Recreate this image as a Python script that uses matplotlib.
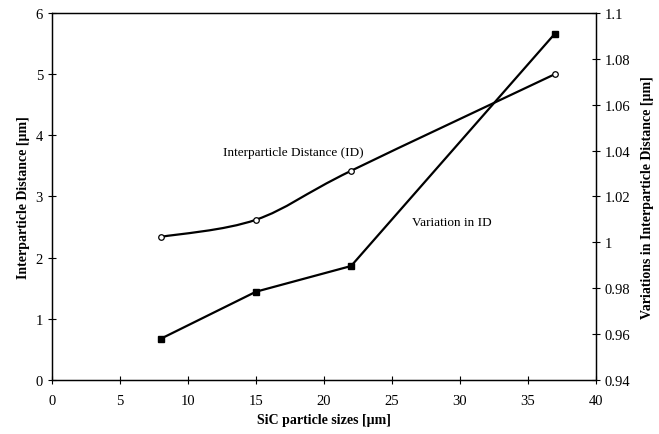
import matplotlib
matplotlib.use('Agg')
import matplotlib.pyplot as plt
import numpy as np
from matplotlib.path import Path
from matplotlib.patches import PathPatch
from matplotlib.ticker import FuncFormatter

plt.rcParams['font.family'] = ['Liberation Serif', 'DejaVu Serif']

sizes = [8, 15, 22, 37]
id_dist = [2.34, 2.62, 3.42, 5.0]
id_var = [0.958, 0.9785, 0.9897, 1.091]


def smooth_path(xs, ys, t=0.25):
    # bezier smoothing like a spreadsheet "smoothed line"
    xs = np.asarray(xs, float)
    ys = np.asarray(ys, float)
    n = len(xs)
    verts = [(xs[0], ys[0])]
    codes = [Path.MOVETO]
    for i in range(n - 1):
        p0 = (xs[max(i - 1, 0)], ys[max(i - 1, 0)])
        p1 = (xs[i], ys[i])
        p2 = (xs[i + 1], ys[i + 1])
        p3 = (xs[min(i + 2, n - 1)], ys[min(i + 2, n - 1)])
        c1 = (p1[0] + (p2[0] - p0[0]) * t / 1.5, p1[1] + (p2[1] - p0[1]) * t / 1.5)
        c2 = (p2[0] - (p3[0] - p1[0]) * t / 1.5, p2[1] - (p3[1] - p1[1]) * t / 1.5)
        verts += [c1, c2, p2]
        codes += [Path.CURVE4] * 3
    return Path(verts, codes)


fig = plt.figure(figsize=(6.59, 4.35), dpi=100)
ax = fig.add_axes([0.079, 0.124, 0.825, 0.844])
ax2 = ax.twinx()

ax.add_patch(PathPatch(smooth_path(sizes, id_dist), fill=False, lw=1.6, color='black'))
ax.plot(sizes, id_dist, 'o', ms=4, mfc='white', mec='black', mew=0.9)

ax2.plot(sizes, id_var, '-s', color='black', lw=1.6, ms=4.5)

ax.set_xlim(0, 40)
ax.set_ylim(0, 6)
ax2.set_ylim(0.94, 1.1)
ax.set_xticks(np.arange(0, 41, 5))
ax.set_yticks(np.arange(0, 7, 1))
ax2.set_yticks(np.arange(0.94, 1.101, 0.02))
ax2.yaxis.set_major_formatter(FuncFormatter(lambda v, p: '%g' % round(v, 2)))

for a in (ax, ax2):
    a.tick_params(direction='inout', length=6, width=0.8, labelsize=10.5)
    for s in a.spines.values():
        s.set_linewidth(0.9)
ax.tick_params(axis='x', pad=7)

ax.set_xlabel('SiC particle sizes [µm]', fontweight='bold', fontsize=10)
ax.set_ylabel('Interparticle Distance [µm]', fontweight='bold', fontsize=10)
ax2.set_ylabel('Variations in Interparticle Distance [µm]', fontweight='bold',
               fontsize=10, labelpad=8)

ax.text(12.6, 3.67, 'Interparticle Distance (ID)', fontsize=9.5)
ax.text(26.5, 2.53, 'Variation in ID', fontsize=9.5)

fig.savefig('out.png', dpi=100)
